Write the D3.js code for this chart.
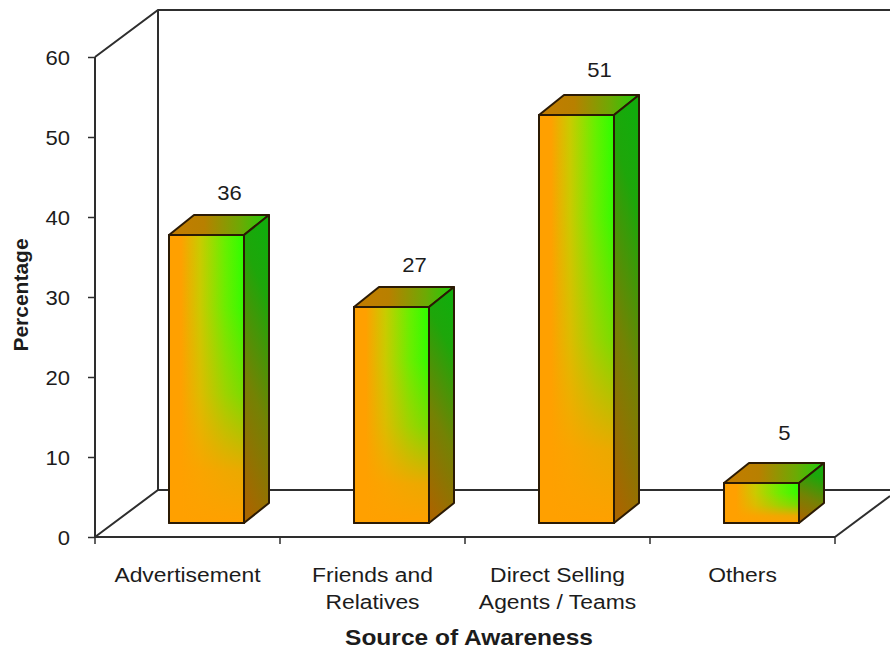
<!DOCTYPE html>
<html>
<head>
<meta charset="utf-8">
<script src="https://cdn.jsdelivr.net/npm/d3@7"></script>
<style>
html,body{margin:0;padding:0;background:#fff}
svg{display:block}
text{font-family:"Liberation Sans",Arial,sans-serif;fill:#1c1c1c}
</style>
</head>
<body>
<svg id="chart" width="890" height="649"></svg>
<script>
const categories = ["Advertisement", "Friends and|Relatives", "Direct Selling|Agents / Teams", "Others"];
const values = [36, 27, 51, 5];
const yTicks = [0, 10, 20, 30, 40, 50, 60];
const yTitle = "Percentage";
const xTitle = "Source of Awareness";

const svg = d3.select("#chart");
const frontLeft = 95, frontRight = 835, frontBottom = 537, frontTop = 57;
const wallDx = 63, wallDy = -47;   // oblique offset of the back wall
const barDx = 25, barDy = -20;     // oblique depth of a bar
const floorInsetX = 19, floorInsetY = -14; // bars stand inside the floor
const labelLift = [35, 35, 38, 43];  // distance from a bar's front top edge to its value label

const y = d3.scaleLinear().domain([0, 60]).range([frontBottom, frontTop]);
const x = d3.scaleBand().domain(categories).range([frontLeft, frontRight]);
const barWidth = 75;
const axisColor = "#2e2e2e", edgeColor = "#2b1a04";
const textScaleX = 1.09;   // labels are set slightly wide

// Gradient fills for the visible faces
const defs = svg.append("defs");
function linearGradient(id, dir, stops) {
  const g = defs.append("linearGradient").attr("id", id)
    .attr("x1", dir[0]).attr("y1", dir[1]).attr("x2", dir[2]).attr("y2", dir[3]);
  stops.forEach(([o, c, a]) => g.append("stop").attr("offset", o).attr("stop-color", c)
    .attr("stop-opacity", a === undefined ? 1 : a));
}
linearGradient("faceFront", [0, 0, 1, 0],
  [[0, "#ffa000"], [0.16, "#ffa000"], [0.42, "#c8cc00"], [0.75, "#66f000"], [1, "#2cff00"]]);
linearGradient("faceFade", [0, 0, 0, 1],
  [[0, "#ffa000", 0], [0.25, "#ffa000", 0.04], [0.55, "#ffa000", 0.36], [0.82, "#ffa000", 0.9], [1, "#ffa000", 1]]);
linearGradient("faceSide", [0.6, 0, 0.4, 1],
  [[0, "#12ac0c"], [0.2, "#1ea60a"], [0.6, "#748204"], [1, "#a86600"]]);
linearGradient("faceTop", [0, 0.5, 1, 0.5],
  [[0, "#c47c00"], [0.35, "#b88000"], [0.72, "#6caa04"], [1, "#1ccf0a"]]);

// Walls and floor
const frame = svg.append("g").attr("fill", "none").attr("stroke", axisColor).attr("stroke-width", 2);
const wallX = frontLeft + wallDx;
const line = d3.line();
[
  [[frontLeft, y(60)], [wallX, y(60) + wallDy], [890, y(60) + wallDy]],
  [[wallX, y(60) + wallDy], [wallX, y(0) + wallDy]],
  [[frontLeft, y(0)], [wallX, y(0) + wallDy], [890, y(0) + wallDy]],
  [[frontRight, y(0)], [890, y(0) + wallDy * 55 / wallDx]]
].forEach(p => frame.append("path").attr("d", line(p)));

// Value axis
const yAxis = svg.append("g").attr("transform", `translate(${frontLeft},0)`)
  .call(d3.axisLeft(y).tickValues(yTicks).tickSize(7));
yAxis.select(".domain").attr("stroke", axisColor).attr("stroke-width", 2).attr("d", `M0,${frontTop}V${frontBottom}`);
yAxis.selectAll(".tick line").attr("stroke", axisColor).attr("stroke-width", 1.5);
yAxis.selectAll("text").attr("x", 0).attr("font-size", 21).attr("font-family", null)
  .attr("transform", `translate(-25,0.5) scale(1.05,1)`).style("fill", "#1c1c1c");

// Category axis
const xAxis = svg.append("g").attr("transform", `translate(0,${frontBottom})`);
xAxis.append("line").attr("x1", frontLeft - 1).attr("x2", frontRight)
  .attr("stroke", axisColor).attr("stroke-width", 2);
xAxis.selectAll("line.tick").data(d3.range(categories.length + 1)).join("line")
  .attr("class", "tick")
  .attr("x1", i => frontLeft + i * x.step()).attr("x2", i => frontLeft + i * x.step())
  .attr("y1", 0).attr("y2", 7)
  .attr("stroke", axisColor).attr("stroke-width", 1.5);

// Category labels, one or two lines each
const labels = svg.append("g").attr("text-anchor", "middle").attr("font-size", 21);
categories.forEach(c => {
  c.split("|").forEach((part, i) => {
    labels.append("text")
      .attr("transform", `translate(${x(c) + x.bandwidth() / 2},${582 + i * 27}) scale(${textScaleX},1)`)
      .text(part);
  });
});

// Bars
const bars = svg.selectAll("g.bar").data(values).join("g").attr("class", "bar")
  .attr("stroke", edgeColor).attr("stroke-width", 2).attr("stroke-linejoin", "round");
const left = (d, i) => x(categories[i]) + (x.bandwidth() - barWidth) / 2 + floorInsetX;
const base = y(0) + floorInsetY;
const height = d => y(0) - y(d);

bars.append("path").attr("fill", "url(#faceTop)").attr("d", (d, i) => {
  const l = left(d, i), t = base - height(d);
  return line([[l, t], [l + barDx, t + barDy], [l + barWidth + barDx, t + barDy], [l + barWidth, t]]) + "Z";
});
bars.append("path").attr("fill", "url(#faceSide)").attr("d", (d, i) => {
  const r = left(d, i) + barWidth, t = base - height(d);
  return line([[r, t], [r + barDx, t + barDy], [r + barDx, base + barDy], [r, base]]) + "Z";
});
bars.append("rect").attr("fill", "url(#faceFront)")
  .attr("x", left).attr("y", d => base - height(d))
  .attr("width", barWidth).attr("height", height);
bars.append("rect").attr("fill", "url(#faceFade)")
  .attr("x", left).attr("y", d => base - height(d))
  .attr("width", barWidth).attr("height", height);

// Value labels above each bar
svg.append("g").attr("text-anchor", "middle").attr("font-size", 21)
  .selectAll("text").data(values).join("text")
  .attr("transform", (d, i) =>
    `translate(${left(d, i) + barWidth / 2 + 23},${base - height(d) - labelLift[i]}) scale(1.05,1)`)
  .text(d => d);

// Axis titles
svg.append("text").attr("transform", "translate(28,295) rotate(-90)")
  .attr("text-anchor", "middle").attr("font-size", 21).attr("font-weight", "bold").text(yTitle);
svg.append("text").attr("transform", `translate(469,645) scale(${textScaleX},1)`)
  .attr("text-anchor", "middle").attr("font-size", 22.5).attr("font-weight", "bold").text(xTitle);
</script>
</body>
</html>
